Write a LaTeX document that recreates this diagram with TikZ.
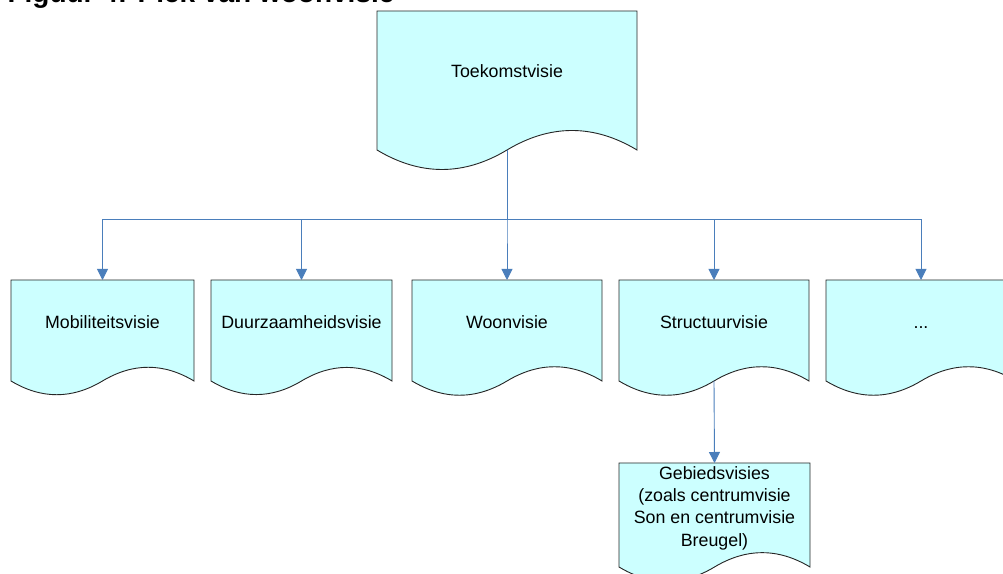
\documentclass[tikz,border=0pt]{standalone}
\usepackage{fontspec}
\setmainfont{Liberation Sans}
\usetikzlibrary{arrows.meta,calc,backgrounds}

\definecolor{docfill}{HTML}{CCFFFF}
\definecolor{connblue}{HTML}{4A7EBB}

% outline of a document shape round a named node
\newcommand{\docshape}[1]{%
  \filldraw[docline] let \p1=(#1.south west), \p2=(#1.north east),
      \n1={(\x2-\x1)/6}, \n2={(\x2-\x1)/10}, \n3={(\x1+\x2)/2} in
    (\x1,\y2) -- (\x2,\y2) -- (\x2,\y1)
    .. controls +(-\n1,\n2) and +(\n1,\n2) .. (\n3,\y1)
    .. controls +(-\n1,-\n2) and +(\n1,-\n2) .. (\x1,\y1) -- cycle;}

\tikzset{
  docbox/.style={minimum width=#1, inner xsep=0pt, inner ysep=0pt,
                 outer sep=0pt, anchor=north, align=center},
  rowbox/.style={docbox=#1, text height=48.4bp, text depth=52.6bp},
  docline/.style={draw=black!85, fill=docfill, line width=0.9bp},
  conn/.style={draw=connblue, line width=0.9bp,
               -{Triangle[width=11bp,length=11bp,fill=connblue]}}
}

\begin{document}
\begin{tikzpicture}[x=1bp, y=1bp,
                    font=\fontsize{17.8bp}{22.4bp}\selectfont]

                \useasboundingbox (0, 0) rectangle (1003, 574);

                \node[anchor=base west,
                      font=\bfseries\fontsize{28bp}{30bp}\selectfont]
                    (title) at (4, 571) {Figuur 4: Plek van woonvisie};

                \node[docbox=260bp, text height=66.9bp, text depth=72.1bp]
                    (toekomst) at (507, 563) {Toekomstvisie};

                \node[rowbox=183bp] (mobiliteit) at (102.5, 294) {Mobiliteitsvisie};
                \node[rowbox=181bp] (duurzaam) at (301.5, 294) {Duurzaamheidsvisie};
                \node[rowbox=190bp] (woon) at (507, 294) {Woonvisie};
                \node[rowbox=190bp] (structuur) at (714, 294) {Structuurvisie};
                \node[rowbox=190bp] (overig) at (921, 294) {...};

                \node[docbox=191bp, text height=83.4bp, text depth=20.6bp]
                    (gebied) at (714.5, 111)
                    {Gebiedsvisies\\(zoals centrumvisie\\Son en centrumvisie\\Breugel)};

                \begin{pgfonlayer}{background}
                    \foreach \b in {toekomst, mobiliteit, duurzaam, woon, structuur, overig, gebied}
                        {\docshape{\b}}
                \end{pgfonlayer}

                \coordinate (split) at (507, 355);
                \foreach \b in {mobiliteit, duurzaam, woon, structuur, overig}
                    \draw[conn] (toekomst.south) -- (split) -| (\b.north);
                \draw[conn] (structuur.south) -- (gebied.north);
            \end{tikzpicture}
\end{document}
